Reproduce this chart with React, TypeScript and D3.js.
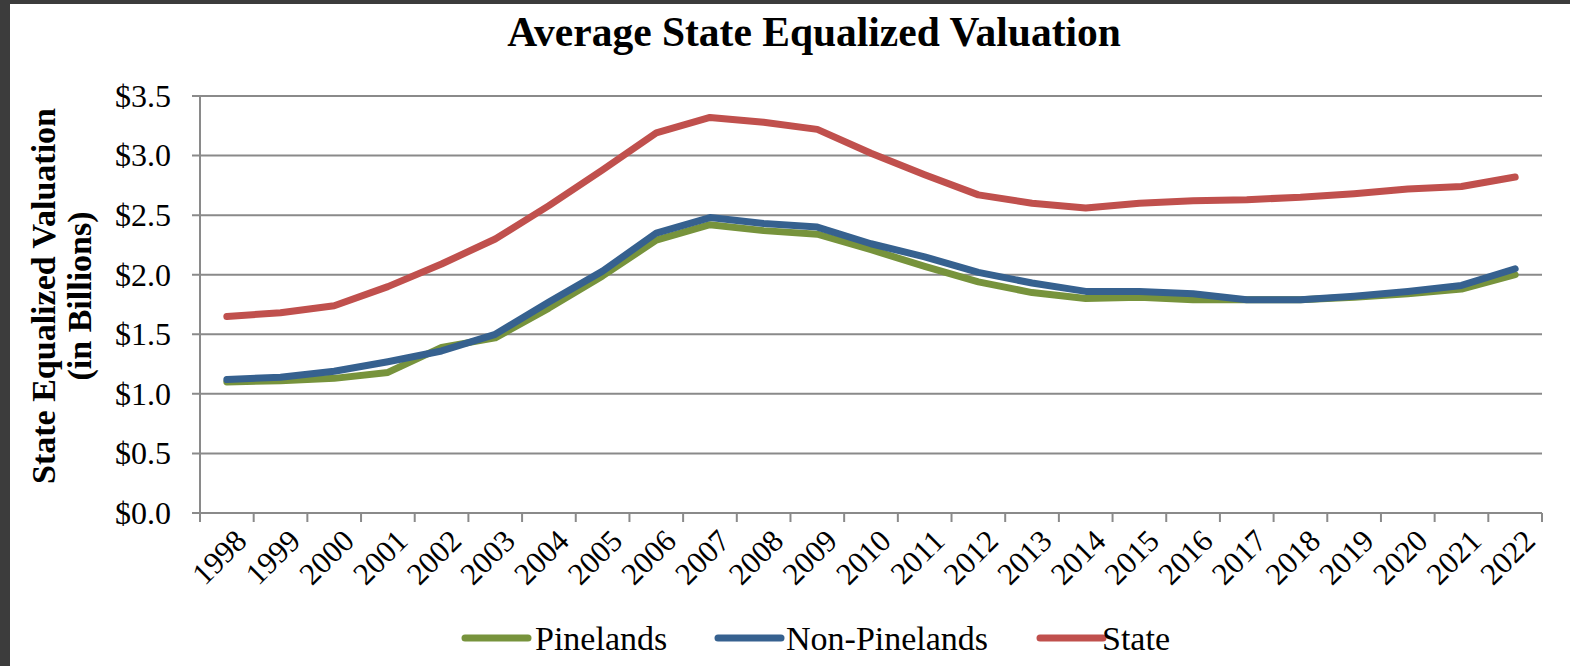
import React from "react";
import * as d3 from "d3";

const years = ["1998","1999","2000","2001","2002","2003","2004","2005","2006","2007","2008","2009","2010","2011","2012","2013","2014","2015","2016","2017","2018","2019","2020","2021","2022"];
const pinelands = [1.10, 1.11, 1.13, 1.18, 1.39, 1.47, 1.72, 1.99, 2.29, 2.42, 2.37, 2.34, 2.21, 2.07, 1.94, 1.85, 1.80, 1.81, 1.79, 1.79, 1.79, 1.81, 1.84, 1.88, 2.00];
const nonPinelands = [1.12, 1.14, 1.19, 1.27, 1.36, 1.50, 1.77, 2.03, 2.35, 2.48, 2.43, 2.40, 2.26, 2.15, 2.02, 1.93, 1.86, 1.86, 1.84, 1.79, 1.79, 1.82, 1.86, 1.91, 2.05];
const state = [1.65, 1.68, 1.74, 1.90, 2.09, 2.30, 2.58, 2.88, 3.19, 3.32, 3.28, 3.22, 3.02, 2.84, 2.67, 2.60, 2.56, 2.60, 2.62, 2.63, 2.65, 2.68, 2.72, 2.74, 2.82];
const yTicks = [0, 0.5, 1.0, 1.5, 2.0, 2.5, 3.0, 3.5];
const seriesNames = ["Pinelands", "Non-Pinelands", "State"];
const seriesColors = ["#77933C", "#36618F", "#C0504D"];

const W = 1570, H = 666;
const L = 200, R = 1542, T = 96, B = 513;
const FONT = "'Liberation Serif', 'Times New Roman', serif";

export default function App() {
  const x = d3.scaleBand<string>().domain(years).range([L, R]).padding(0);
  const y = d3.scaleLinear().domain([0, 3.5]).range([B, T]);
  const bw = x.bandwidth();
  const line = d3.line<number>()
    .x((_, i) => (x(years[i]) as number) + bw / 2)
    .y((d) => y(d));
  const series = [pinelands, nonPinelands, state];
  const grid = "#8a8a8a";

  const legendItems = [
    { sx: 462, tx: 535 },
    { sx: 715, tx: 786 },
    { sx: 1037, tx: 1102 },
  ];

  return (
    <div style={{ position: "absolute", left: 0, top: 0 }}>
      <svg width={W} height={H} style={{ display: "block", background: "#fff" }}>
        <rect x={0} y={0} width={W} height={4} fill="#3c3c3c" />
        <rect x={0} y={0} width={10} height={H} fill="#3c3c3c" />
        <text x={814} y={46} textAnchor="middle" fontFamily={FONT} fontWeight="bold" fontSize={41.5} fill="#000">
          Average State Equalized Valuation
        </text>
        <g transform="translate(55,296) rotate(-90)">
          <text x={0} y={0} textAnchor="middle" fontFamily={FONT} fontWeight="bold" fontSize={34} fill="#000">
            State Equalized Valuation
          </text>
          <text x={0} y={36} textAnchor="middle" fontFamily={FONT} fontWeight="bold" fontSize={34} fill="#000">
            (in Billions)
          </text>
        </g>
        {yTicks.map((t) => (
          <g key={t}>
            <line x1={L - 8} x2={R} y1={y(t)} y2={y(t)} stroke={grid} strokeWidth={2} />
            <text x={171} y={y(t)} dy="0.34em" textAnchor="end" fontFamily={FONT} fontSize={32} fill="#000">
              {"$" + t.toFixed(1)}
            </text>
          </g>
        ))}
        <line x1={L} x2={L} y1={T} y2={B} stroke={grid} strokeWidth={2} />
        {d3.range(years.length + 1).map((i) => (
          <line key={i} x1={L + i * bw} x2={L + i * bw} y1={B} y2={B + 9} stroke={grid} strokeWidth={2} />
        ))}
        {years.map((yr) => {
          const cx = (x(yr) as number) + bw / 2;
          return (
            <text key={yr} transform={`translate(${cx + 14},${B + 22}) rotate(-45)`} textAnchor="end" dy="0.35em"
              fontFamily={FONT} fontSize={31} fill="#000">
              {yr}
            </text>
          );
        })}
        {series.map((s, i) => (
          <path key={i} d={line(s) as string} fill="none" stroke={seriesColors[i]} strokeWidth={7}
            strokeLinecap="round" strokeLinejoin="round" />
        ))}
        {legendItems.map((it, i) => (
          <g key={i}>
            <line x1={it.sx + 3} x2={it.sx + 66} y1={638} y2={638} stroke={seriesColors[i]} strokeWidth={7} strokeLinecap="round" />
            <text x={it.tx} y={650} fontFamily={FONT} fontSize={34} fill="#000">{seriesNames[i]}</text>
          </g>
        ))}
      </svg>
    </div>
  );
}
